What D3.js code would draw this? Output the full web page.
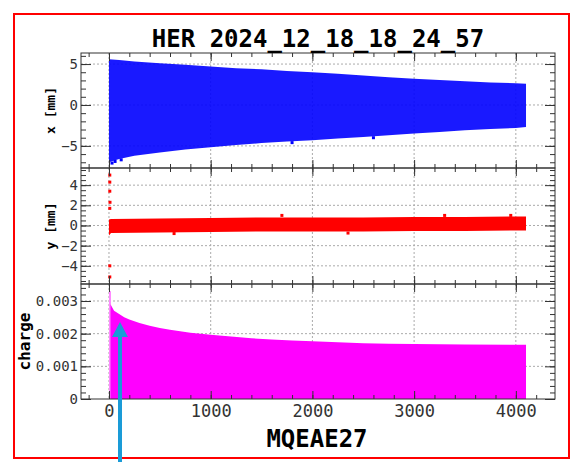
<!DOCTYPE html>
<html lang="en">
<head>
<meta charset="utf-8">
<title>HER bunch profile</title>
<script src="https://d3js.org/d3.v7.min.js"></script>
<style>
body { margin: 0; background: #fff; }
.tick text { font-family: "DejaVu Sans Mono", monospace; fill: #333; }
.tick line { stroke: #333; }
</style>
</head>
<body>
<script>
// values
const titleText = "HER 2024_12_18_18_24_57";
const xTitle = "MQEAE27";
const xTicks = [0, 1000, 2000, 3000, 4000];

// x [mm] band (upper / lower edge of the scatter)
const xBunch = [0, 100, 250, 500, 750, 1000, 1250, 1500, 1750, 2000, 2250, 2500, 2750, 3000, 3250, 3500, 3750, 4000, 4100];
const xUpper = [5.6, 5.5, 5.3, 5.1, 4.9, 4.7, 4.5, 4.35, 4.15, 4.0, 3.8, 3.6, 3.4, 3.2, 3.05, 2.9, 2.75, 2.65, 2.6];
const xLower = [-7.0, -6.6, -6.2, -5.8, -5.45, -5.15, -4.9, -4.65, -4.45, -4.3, -4.1, -3.9, -3.7, -3.5, -3.3, -3.1, -2.95, -2.8, -2.7];
const xOutBunch = [30, 60, 120, 1800, 2600];
const xOutVal = [-7.1, -6.9, -6.7, -4.6, -4.0];
const xTicksY = [-5, 0, 5];

// y [mm] band
const yBunch = [0, 20, 500, 1000, 1500, 2000, 2500, 3000, 3500, 4000, 4100];
const yUpper = [0.6, 0.65, 0.7, 0.75, 0.8, 0.8, 0.8, 0.85, 0.85, 0.9, 0.9];
const yLower = [-1.0, -0.75, -0.7, -0.65, -0.6, -0.6, -0.6, -0.55, -0.55, -0.5, -0.5];
const yOutBunch = [8, 8, 8, 10, 8, 8, 8, 640, 1700, 2350, 3300, 3950];
const yOutVal = [5.0, 4.3, 3.4, 2.3, 1.7, -4.0, -5.1, -0.8, 1.0, -0.75, 1.0, 1.0];
const yTicksY = [-4, -2, 0, 2, 4];

// charge per bunch
const chargeBunch = [15, 50, 100, 150, 200, 300, 400, 500, 600, 700, 800, 900, 1000, 1200, 1400, 1600, 1800, 2000, 2250, 2500, 2750, 3000, 3500, 4000, 4100];
const chargeVal = [0.0029, 0.0027, 0.0026, 0.0025, 0.00243, 0.00233, 0.00224, 0.00217, 0.00212, 0.00207, 0.00203, 0.002, 0.00197, 0.00191, 0.00186, 0.00182, 0.00179, 0.00177, 0.00174, 0.00171, 0.00169, 0.00168, 0.00167, 0.00166, 0.00166];
const firstBunch = [0, 0.0033];
const chargeTicksY = [0, 0.001, 0.002, 0.003];

const W = 578, H = 462;
const left = 81, right = 555;

const svg = d3.select("body").append("svg")
    .attr("width", W).attr("height", H);

// red frame
svg.append("rect")
    .attr("x", 14).attr("y", 14).attr("width", 555).attr("height", 444)
    .attr("fill", "none").attr("stroke", "#ff0000").attr("stroke-width", 2);

const x = d3.scaleLinear().domain([-275, 4385]).range([left, right]);

const panels = [
    {label: "x [mm]", top: 53, bottom: 168, domain: [-7.7, 6.35], ticks: xTicksY, minor: 1, fmt: d3.format("d"), lx: 55, lsize: 13},
    {label: "y [mm]", top: 168, bottom: 284, domain: [-5.8, 5.7], ticks: yTicksY, minor: 0.5, fmt: d3.format("d"), lx: 55, lsize: 13},
    {label: "charge", top: 284, bottom: 399, domain: [0, 0.00352], ticks: chargeTicksY, minor: 0.0002, fmt: d => d === 0 ? "0" : d3.format(".3f")(d), lx: 30, lsize: 16}
];

const xMinor = d3.range(-200, 4400, 200);

panels.forEach((p, i) => {
    p.y = d3.scaleLinear().domain(p.domain).range([p.bottom, p.top]);
    const g = svg.append("g");

    // grid
    g.selectAll(".vgrid").data(xTicks).join("line")
        .attr("x1", d => x(d)).attr("x2", d => x(d))
        .attr("y1", p.top).attr("y2", p.bottom)
        .attr("stroke", "#aaa").attr("stroke-dasharray", "2,2");
    g.selectAll(".hgrid").data(p.ticks.filter(d => p.y(d) < p.bottom - 1)).join("line")
        .attr("x1", left).attr("x2", right)
        .attr("y1", d => p.y(d)).attr("y2", d => p.y(d))
        .attr("stroke", "#aaa").attr("stroke-dasharray", "2,2");

    p.g = g;
});

// --- x panel
const px = panels[0];
px.g.append("path")
    .datum(xBunch.map((b, i) => [b, xUpper[i], xLower[i]]))
    .attr("fill", "#0000ff").attr("fill-opacity", 0.9)
    .attr("d", d3.area().x(d => x(d[0])).y0(d => px.y(d[2])).y1(d => px.y(d[1])));
px.g.selectAll(".xo").data(xOutBunch).join("rect")
    .attr("x", (d) => x(d) - 1.5).attr("y", (d, i) => px.y(xOutVal[i]) - 1.5)
    .attr("width", 3).attr("height", 3).attr("fill", "#0000ff");

// --- y panel
const py = panels[1];
py.g.append("path")
    .datum(yBunch.map((b, i) => [b, yUpper[i], yLower[i]]))
    .attr("fill", "#ff0000")
    .attr("d", d3.area().x(d => x(d[0])).y0(d => py.y(d[2])).y1(d => py.y(d[1])));
py.g.selectAll(".yo").data(yOutBunch).join("rect")
    .attr("x", d => x(d) - 1.5).attr("y", (d, i) => py.y(yOutVal[i]) - 1.5)
    .attr("width", 3).attr("height", 3).attr("fill", "#ff0000");

// --- charge panel
const pc = panels[2];
pc.g.append("rect")
    .attr("x", x(firstBunch[0])).attr("y", pc.y(firstBunch[1]))
    .attr("width", 2).attr("height", pc.y(0) - pc.y(firstBunch[1]))
    .attr("fill", "#ff88ff");
pc.g.append("path")
    .datum(chargeBunch.map((b, i) => [b, chargeVal[i]]))
    .attr("fill", "#ff00ff")
    .attr("d", d3.area().x(d => x(d[0])).y0(pc.y(0)).y1(d => pc.y(d[1])));

// axes and frames on top
panels.forEach((p, i) => {
    const g = svg.append("g");
    const yMinor = d3.range(Math.ceil(p.domain[0] / p.minor - 1e-6), Math.floor(p.domain[1] / p.minor + 1e-6) + 1).map(k => k * p.minor);

    g.append("g").attr("transform", `translate(${left},0)`)
        .call(d3.axisLeft(p.y).tickValues(yMinor).tickSize(-5).tickFormat(""));
    g.append("g").attr("transform", `translate(${left},0)`)
        .call(d3.axisLeft(p.y).tickValues(p.ticks).tickSize(-10).tickPadding(3).tickFormat(p.fmt))
        .selectAll("text").style("font-size", "14px");
    g.append("g").attr("transform", `translate(${right},0)`)
        .call(d3.axisRight(p.y).tickValues(yMinor).tickSize(-5).tickFormat(""));
    g.append("g").attr("transform", `translate(${right},0)`)
        .call(d3.axisRight(p.y).tickValues(p.ticks).tickSize(-10).tickFormat(""));

    g.append("g").attr("transform", `translate(0,${p.top})`)
        .call(d3.axisTop(x).tickValues(xMinor).tickSize(-4).tickFormat(""));
    g.append("g").attr("transform", `translate(0,${p.top})`)
        .call(d3.axisTop(x).tickValues(xTicks).tickSize(-8).tickFormat(""));
    g.append("g").attr("transform", `translate(0,${p.bottom})`)
        .call(d3.axisBottom(x).tickValues(xMinor).tickSize(-4).tickFormat(""));
    const xb = g.append("g").attr("transform", `translate(0,${p.bottom})`)
        .call(d3.axisBottom(x).tickValues(xTicks).tickSize(-8).tickPadding(6)
            .tickFormat(i === 2 ? d3.format("d") : ""));
    xb.selectAll("text").style("font-size", "17px");

    g.selectAll(".domain").remove();

    g.append("rect")
        .attr("x", left).attr("y", p.top)
        .attr("width", right - left).attr("height", p.bottom - p.top)
        .attr("fill", "none").attr("stroke", "#333").attr("stroke-width", 1);

    svg.append("text")
        .attr("transform", `translate(${p.lx},${(p.top + p.bottom) / 2}) rotate(-90)`)
        .attr("text-anchor", "middle")
        .style("font-family", "DejaVu Sans Mono, monospace")
        .style("font-weight", "bold")
        .style("font-size", p.lsize + "px")
        .text(p.label);
});

// titles
svg.append("text")
    .attr("x", 318).attr("y", 47)
    .attr("text-anchor", "middle")
    .style("font-family", "DejaVu Sans Mono, monospace")
    .style("font-weight", "bold").style("font-size", "24px")
    .text(titleText);

svg.append("text")
    .attr("x", 317).attr("y", 447)
    .attr("text-anchor", "middle")
    .style("font-family", "DejaVu Sans Mono, monospace")
    .style("font-weight", "bold").style("font-size", "24px")
    .text(xTitle);

// blue annotation arrow
svg.append("line")
    .attr("x1", 120).attr("x2", 120).attr("y1", 334).attr("y2", H)
    .attr("stroke", "#1a9bd7").attr("stroke-width", 4);
svg.append("path")
    .attr("d", "M120,322 L112,337 L128,337 Z")
    .attr("fill", "#1a9bd7");
</script>
</body>
</html>
